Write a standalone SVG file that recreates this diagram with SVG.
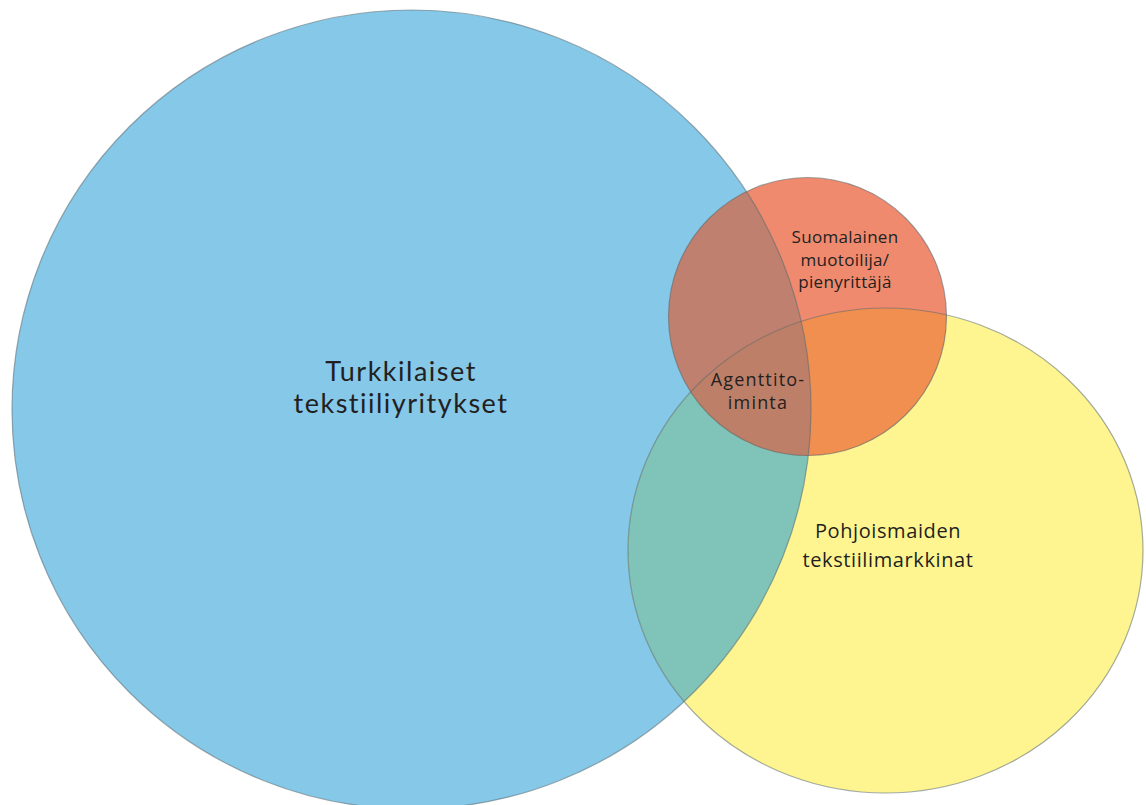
<svg xmlns="http://www.w3.org/2000/svg" width="1146" height="805" viewBox="0 0 1146 805">
  <style>
    .lbl { font-family: "Open Sans", Lato, "Liberation Sans", sans-serif; fill: #231f20; text-anchor: middle; }
    .big { font-family: Lato, "Open Sans", "Liberation Sans", sans-serif; font-size: 27px; letter-spacing: 1.5px; }
    .mid { font-size: 20px; letter-spacing: 0.6px; }
    .sm { font-size: 17px; letter-spacing: 0.3px; }
    .ag { font-size: 18px; letter-spacing: 1.2px; }
    .edge { fill: none; stroke: #5a6a70; stroke-opacity: 0.55; stroke-width: 1.2; }
  </style>
  <defs>
    <circle id="cb" cx="411.5" cy="409.5" r="399.5"/>
    <ellipse id="cy" cx="885.5" cy="550.5" rx="257.5" ry="242.5"/>
    <circle id="cr" cx="807.5" cy="316.5" r="139"/>
    <clipPath id="clipB"><use href="#cb"/></clipPath>
    <clipPath id="clipY"><use href="#cy"/></clipPath>
  </defs>
  <rect width="1146" height="805" fill="#ffffff"/>
  <g id="turkkilaiset">
    <use href="#cb" fill="#86c8e8"/>
  </g>
  <g id="pohjoismaiden">
    <use href="#cy" fill="#fef591"/>
    <use href="#cy" fill="#80c3b8" clip-path="url(#clipB)"/>
  </g>
  <g id="suomalainen">
    <use href="#cr" fill="#ef8a6e"/>
    <g clip-path="url(#clipB)"><use href="#cr" fill="#bf8070"/></g>
    <g clip-path="url(#clipY)"><use href="#cr" fill="#f08f4f"/></g>
    <g clip-path="url(#clipY)"><g clip-path="url(#clipB)"><use href="#cr" fill="#bd7f68"/></g></g>
  </g>
  <g id="connectors">
    <use href="#cb" class="edge"/>
    <use href="#cy" class="edge"/>
    <use href="#cr" class="edge"/>
  </g>
  <g id="labels">
    <text class="lbl big"><tspan x="401" y="381">Turkkilaiset</tspan><tspan x="401" y="413">tekstiiliyritykset</tspan></text>
    <text class="lbl mid"><tspan x="888" y="538">Pohjoismaiden</tspan><tspan x="888" y="567">tekstiilimarkkinat</tspan></text>
    <text class="lbl sm"><tspan x="845" y="243">Suomalainen</tspan><tspan x="845" y="266">muotoilija/</tspan><tspan x="845" y="288">pienyrittäjä</tspan></text>
    <text class="lbl ag"><tspan x="758" y="386">Agenttito-</tspan><tspan x="758" y="409">iminta</tspan></text>
  </g>
</svg>
